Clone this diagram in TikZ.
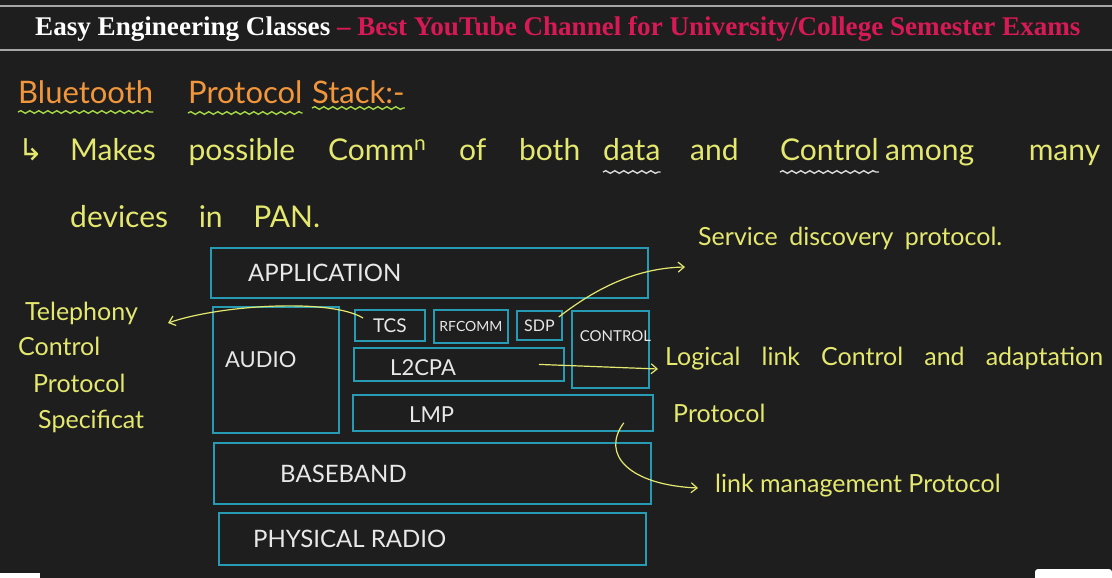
\documentclass[tikz,border=0pt]{standalone}
\usepackage{fontspec}
\setmainfont{Lato}
\newfontfamily\headfont{Liberation Serif}
\newfontfamily\symfont{DejaVu Sans}
\usetikzlibrary{arrows.meta, positioning, decorations.pathmorphing}

\definecolor{board}{RGB}{30,30,30}
\definecolor{chalkyellow}{RGB}{228,232,110}
\definecolor{chalkorange}{RGB}{242,150,60}
\definecolor{chalkgreen}{RGB}{165,215,70}
\definecolor{chalkwhite}{RGB}{232,232,232}
\definecolor{boxcyan}{RGB}{40,155,180}
\definecolor{ytred}{RGB}{215,25,85}

\begin{document}
\begin{tikzpicture}[x=1pt, y=-1pt,
    stackbox/.style={draw=boxcyan, line width=1.8pt, anchor=north west, inner sep=0pt},
    boxtext/.style={text=chalkwhite, font=\fontsize{24}{26}\selectfont, inner sep=0pt},
    chalk/.style={text=chalkyellow, font=\fontsize{30}{32}\selectfont, inner sep=0pt, anchor=base west},
    annot/.style={text=chalkyellow, font=\fontsize{25}{27}\selectfont, inner sep=0pt, anchor=base west},
    pointer/.style={draw=chalkyellow, line width=1.2pt, -{Straight Barb[length=6pt, width=10pt]}},
    wavy/.style={decorate, decoration={snake, amplitude=1.3pt, segment length=9pt}, line width=1.4pt}]
    \useasboundingbox (0,0) rectangle (1112,578);
    \fill[board] (0,0) rectangle (1112,578);

    % Header band
    \draw[gray!70, line width=2pt] (0,6) -- (1112,6);
    \draw[gray!70, line width=2pt] (0,50) -- (1112,50);
    \node[anchor=base west, inner sep=0pt] (head) at (35,36)
        {\resizebox{1045pt}{19pt}{\headfont\bfseries\color{white}Easy Engineering Classes \color{ytred}– Best YouTube Channel for University/College Semester Exams}};

    % Title
    \node[chalk, text=chalkorange, font=\fontsize{31}{33}\selectfont] (bt) at (18,103) {Bluetooth};
    \node[chalk, text=chalkorange, font=\fontsize{31}{33}\selectfont] (pr) at (188,103) {Protocol};
    \node[chalk, text=chalkorange, font=\fontsize{31}{33}\selectfont] (st) at (312,103) {Stack:-};
    \draw[wavy, chalkgreen] ([yshift=-9pt]bt.base west) -- ([yshift=-9pt]bt.base east);
    \draw[wavy, chalkgreen] ([yshift=-10pt]pr.base west) -- ([yshift=-10pt]pr.base east);
    \draw[wavy, chalkgreen] ([yshift=-5pt]st.base west) -- ([yshift=-5pt]st.base east);

    % Definition
    \node[chalk] (hook) at (18,160) {\symfont ↳};
    \node[chalk] (makes) at (70,160) {\makebox[510pt][s]{Makes possible Comm\textsuperscript{n} of both}};
    \node[chalk] (data) at (603,160) {data};
    \node[chalk] (andw) at (690,160) {and};
    \node[chalk] (ctrlw) at (780,160) {Control};
    \node[chalk] (many) at (885,160) {\makebox[215pt][s]{among many}};
    \node[chalk] (pan) at (70,227) {\makebox[250pt][s]{devices in PAN.}};
    \draw[wavy, chalkwhite!85!gray] ([yshift=-12pt]data.base west) -- ([yshift=-12pt]data.base east);
    \draw[wavy, chalkwhite!85!gray] ([yshift=-12pt]ctrlw.base west) -- ([yshift=-12pt]ctrlw.base east);

    % Protocol stack
    \node[stackbox, minimum width=437pt, minimum height=50pt] (app) at (210,247) {};
    \node[stackbox, minimum width=126pt, minimum height=126pt] (audio) at (212,306) {};
    \node[stackbox, minimum width=70pt, minimum height=31pt] (tcs) at (354,309) {};
    \node[stackbox, minimum width=74pt, minimum height=33pt] (rfcomm) at (433,309) {};
    \node[stackbox, minimum width=45pt, minimum height=29pt] (sdp) at (516,310) {};
    \node[stackbox, minimum width=77pt, minimum height=77pt] (ctrl) at (571,310) {};
    \node[stackbox, minimum width=210pt, minimum height=33pt] (l2cpa) at (353,347) {};
    \node[stackbox, minimum width=300pt, minimum height=36pt] (lmp) at (352,394) {};
    \node[stackbox, minimum width=437pt, minimum height=61pt] (base) at (213,442) {};
    \node[stackbox, minimum width=427pt, minimum height=52pt] (phy) at (218,512) {};

    \node[boxtext, anchor=west] at ([xshift=38pt]app.west) {APPLICATION};
    \node[boxtext, anchor=west, font=\fontsize{22}{24}\selectfont] at ([shift={(13pt,10pt)}]audio.west) {AUDIO};
    \node[boxtext, font=\fontsize{19}{20}\selectfont] at (tcs.center) {TCS};
    \node[boxtext, font=\fontsize{14}{16}\selectfont] at (rfcomm.center) {RFCOMM};
    \node[boxtext, font=\fontsize{16}{18}\selectfont] at (sdp.center) {SDP};
    \node[boxtext, font=\fontsize{15}{16}\selectfont] at ([shift={(5pt,13pt)}]ctrl.center) {CONTROL};
    \node[boxtext, anchor=west, font=\fontsize{22}{24}\selectfont] at ([shift={(37pt,-3pt)}]l2cpa.west) {L2CPA};
    \node[boxtext, anchor=west, font=\fontsize{22}{24}\selectfont] at ([shift={(57pt,-2pt)}]lmp.west) {LMP};
    \node[boxtext, anchor=west] at ([xshift=67pt]base.west) {BASEBAND};
    \node[boxtext, anchor=west] at ([xshift=35pt]phy.west) {PHYSICAL RADIO};

    % Notes
    \node[annot] (sdpnote) at (698,245) {\makebox[304pt][s]{Service discovery protocol.}};
    \node[annot] (tcpnote) at (25,320) {Telephony};
    \node[annot] (tcpnote2) at (18,355) {Control};
    \node[annot] (tcpnote3) at (33,392) {Protocol};
    \node[annot] (tcpnote4) at (38,428) {Specificat};
    \node[annot] (llcnote) at (665,365) {\makebox[438pt][s]{Logical link Control and adaptation}};
    \node[annot] (llcnote2) at (673,422) {Protocol};
    \node[annot] (lmpnote) at (715,492) {link management Protocol};

    \coordinate (sdptip) at (685,267);
    \coordinate (tcstip) at (168,323);
    \coordinate (llctip) at (658,369);
    \coordinate (lmptip) at (698,488);

    % Pointers
    \draw[pointer] ([shift={(-4pt,-7pt)}]sdp.north east) .. controls (600,285) and (640,268) .. (sdptip);
    \draw[pointer] ([shift={(9pt,-9pt)}]tcs.north west) .. controls (330,298) and (220,305) .. (tcstip);
    \draw[pointer] ([xshift=-26pt]l2cpa.east) -- (llctip);
    \draw[pointer] ([shift={(-30pt,9pt)}]lmp.south east) .. controls (600,455) and (630,485) .. (lmptip);

    % Player corners
    \fill[white] (0,573) rectangle (40,578);
    \fill[white, rounded corners=3pt] (1035,569) rectangle (1112,582);
\end{tikzpicture}
\end{document}
